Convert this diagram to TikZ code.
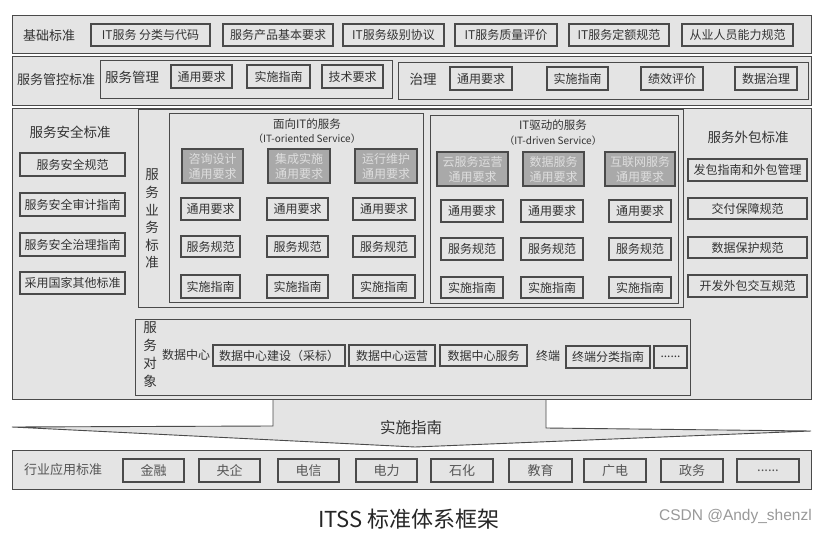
\documentclass[tikz,border=0pt]{standalone}
\usepackage{fontspec}
\setmainfont{Noto Sans CJK SC}
\newfontfamily\wmfont{Liberation Sans}
\definecolor{bgc}{HTML}{E4E4E4}
\definecolor{lnc}{HTML}{4A4A4A}
\definecolor{txc}{HTML}{333333}
\definecolor{gfc}{HTML}{A9A9A9}
\definecolor{gtc}{HTML}{DEDEDE}
\definecolor{ltc}{HTML}{555555}
\tikzset{
 frame/.style={draw=lnc, line width=0.9pt, fill=bgc, inner sep=0pt},
 sbox/.style={draw=lnc, line width=1.2pt, fill=bgc, inner sep=0pt, text=txc, font=\fontsize{12}{14}\selectfont},
 gbox/.style={sbox, fill=gfc, text=gtc, align=center, font=\fontsize{12}{15}\selectfont},
 lbox/.style={sbox, text=ltc, font=\fontsize{13}{15}\selectfont},
 lbl/.style={inner sep=0pt, text=txc, font=\fontsize{13}{15}\selectfont},
 vlbl/.style={inner sep=0pt, text=txc, align=center},
}
\newcommand\bx[7][sbox]{\node[#1, minimum width={#5-#3}, minimum height={#6-#4}] (#2) at ({(#3+#5)/2},{(#4+#6)/2}) {#7};}
\begin{document}
\begin{tikzpicture}[x=1pt,y=-1pt]
\useasboundingbox[fill=white] (0,0) rectangle (826,534);

% Row 1
\bx[frame]{f1}{12}{15}{811}{53}{}
\node[lbl] (l1) at (49,36) {基础标准};
\bx{b1a}{91}{24}{210}{46}{IT服务 分类与代码}
\bx{b1b}{223}{24}{333}{46}{服务产品基本要求}
\bx{b1c}{343}{24}{444}{46}{IT服务级别协议}
\bx{b1d}{455}{24}{557}{46}{IT服务质量评价}
\bx{b1e}{569}{24}{669}{46}{IT服务定额规范}
\bx{b1f}{682}{24}{793}{46}{从业人员能力规范}

% Row 2
\bx[frame]{f2}{12}{56}{811}{105}{}
\node[lbl] (l2) at (56,80) {服务管控标准};
\bx[frame]{m1}{100}{60}{392}{98}{}
\node[lbl,font=\fontsize{13.5}{15}\selectfont] (l2a) at (132,77) {服务管理};
\bx{b2a}{171}{65}{232}{88}{通用要求}
\bx{b2b}{247}{65}{310}{88}{实施指南}
\bx{b2c}{322}{65}{383}{88}{技术要求}
\bx[frame]{m2}{398}{62}{808}{99}{}
\node[lbl,font=\fontsize{13.5}{15}\selectfont] (l2b) at (423,79) {治理};
\bx{b2d}{450}{67}{512}{90}{通用要求}
\bx{b2e}{547}{67}{608}{90}{实施指南}
\bx{b2f}{641}{67}{703}{90}{绩效评价}
\bx{b2g}{735}{67}{797}{90}{数据治理}

% Arrow
\draw[frame] (273,398) -- (273,426) -- (12,427) -- (415,447) -- (811,431) -- (546,428) -- (546,398);
\node[lbl,font=\fontsize{15.5}{17}\selectfont] (al) at (411,428) {实施指南};

% Row 3
\bx[frame]{f3}{12}{108}{811}{399}{}
\node[lbl,font=\fontsize{13.5}{15}\selectfont] (l3) at (70,132) {服务安全标准};
\bx{s1}{20}{153}{125}{176}{服务安全规范}
\bx{s2}{20}{193}{125}{216}{服务安全审计指南}
\bx{s3}{20}{233}{125}{256}{服务安全治理指南}
\bx{s4}{20}{272}{125}{294}{采用国家其他标准}

\bx[frame]{bus}{138}{109}{683}{307}{}
\node[vlbl,font=\fontsize{13.5}{17.6}\selectfont] (lbus) at (152,219) {服\\务\\业\\务\\标\\准};

\bx[frame]{ito}{169}{113}{423}{302}{}
\node[lbl,font=\fontsize{11.5}{13}\selectfont] (ito1) at (307,124) {面向IT的服务};
\node[lbl,font=\fontsize{10}{12}\selectfont] (ito2) at (307,139) {（IT-oriented Service）};
\bx[gbox]{g1}{182}{149}{243}{183}{咨询设计\\通用要求}
\bx[gbox]{g2}{268}{149}{330}{183}{集成实施\\通用要求}
\bx[gbox]{g3}{355}{149}{417}{183}{运行维护\\通用要求}
\bx{o1a}{181}{198}{240}{220}{通用要求}
\bx{o2a}{267}{198}{328}{220}{通用要求}
\bx{o3a}{353}{198}{415}{220}{通用要求}
\bx{o1b}{181}{236}{240}{257}{服务规范}
\bx{o2b}{267}{236}{328}{257}{服务规范}
\bx{o3b}{353}{236}{415}{257}{服务规范}
\bx{o1c}{181}{275}{240}{298}{实施指南}
\bx{o2c}{267}{275}{328}{298}{实施指南}
\bx{o3c}{353}{275}{415}{298}{实施指南}

\bx[frame]{itd}{430}{115}{678}{303}{}
\node[lbl,font=\fontsize{11.5}{13}\selectfont] (itd1) at (553,125) {IT驱动的服务};
\node[lbl,font=\fontsize{10}{12}\selectfont] (itd2) at (553,141) {（IT-driven Service）};
\bx[gbox]{g4}{437}{152}{508}{186}{云服务运营\\通用要求}
\bx[gbox]{g5}{523}{152}{584}{186}{数据服务\\通用要求}
\bx[gbox]{g6}{605}{152}{675}{186}{互联网服务\\通用要求}
\bx{d1a}{441}{200}{503}{222}{通用要求}
\bx{d2a}{521}{200}{583}{222}{通用要求}
\bx{d3a}{609}{200}{671}{222}{通用要求}
\bx{d1b}{441}{238}{503}{260}{服务规范}
\bx{d2b}{521}{238}{583}{260}{服务规范}
\bx{d3b}{609}{238}{671}{260}{服务规范}
\bx{d1c}{441}{277}{503}{298}{实施指南}
\bx{d2c}{521}{277}{583}{298}{实施指南}
\bx{d3c}{609}{277}{671}{298}{实施指南}

\node[lbl,font=\fontsize{13.5}{15}\selectfont] (l3r) at (748,137) {服务外包标准};
\bx{w1}{688}{159}{807}{181}{发包指南和外包管理}
\bx{w2}{688}{198}{807}{219}{交付保障规范}
\bx{w3}{688}{237}{807}{258}{数据保护规范}
\bx{w4}{688}{275}{807}{297}{开发外包交互规范}

\bx[frame]{obj}{135}{319}{690}{395}{}
\node[vlbl,font=\fontsize{13.5}{18}\selectfont] (lobj) at (150,355) {服\\务\\对\\象};
\node[lbl,font=\fontsize{12}{14}\selectfont] (ldc) at (186,355) {数据中心};
\bx{c1}{213}{345}{345}{366}{数据中心建设（采标）}
\bx{c2}{349}{345}{435}{366}{数据中心运营}
\bx{c3}{440}{345}{527}{366}{数据中心服务}
\node[lbl,font=\fontsize{12}{14}\selectfont] (lzd) at (548,356) {终端};
\bx{c4}{566}{346}{650}{368}{终端分类指南}
\bx{c5}{654}{346}{687}{368}{......}

% Row 4
\bx[frame]{f4}{12}{450}{811}{489}{}
\node[lbl,text=ltc] (l4) at (63,470) {行业应用标准};
\bx[lbox]{h1}{123}{459}{184}{482}{金融}
\bx[lbox]{h2}{199}{459}{260}{482}{央企}
\bx[lbox]{h3}{278}{459}{339}{482}{电信}
\bx[lbox]{h4}{356}{459}{417}{482}{电力}
\bx[lbox]{h5}{431}{459}{493}{482}{石化}
\bx[lbox]{h6}{509}{459}{572}{482}{教育}
\bx[lbox]{h7}{584}{459}{646}{482}{广电}
\bx[lbox]{h8}{661}{459}{723}{482}{政务}
\bx[lbox]{h9}{737}{459}{799}{482}{......}

% Caption
\node[inner sep=0pt,font=\fontsize{22}{24}\selectfont,text=black!85] (cap) at (409,519) {ITSS 标准体系框架};
\node[inner sep=0pt,anchor=east,font=\wmfont\fontsize{15.5}{17}\selectfont,text=black!40] (wm) at (812,516) {CSDN @Andy\_shenzl};
\end{tikzpicture}
\end{document}
